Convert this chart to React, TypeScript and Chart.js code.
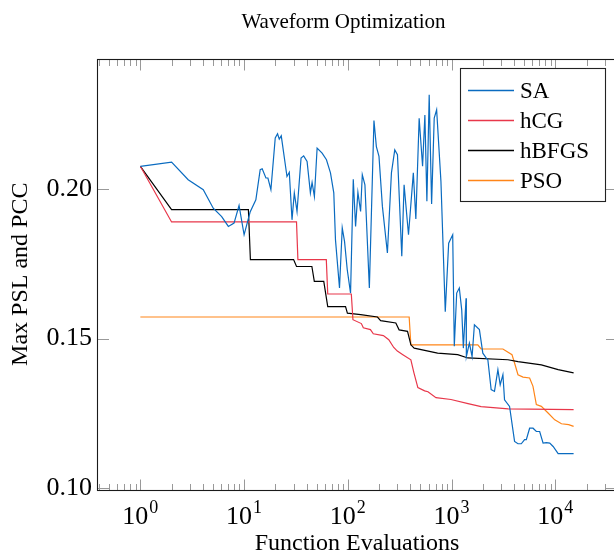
import React, { useEffect, useRef } from 'react';
import { Chart, registerables } from 'chart.js';

Chart.register(...registerables);

// ---------- chart content ----------
const TITLE = 'Waveform Optimization';
const X_LABEL = 'Function Evaluations';
const Y_LABEL = 'Max PSL and PCC';

const SERIES_NAMES = ['SA', 'hCG', 'hBFGS', 'PSO'];
const SERIES_COLORS = ['#0a6bc0', '#e8374a', '#000000', '#ff8518'];

const X_MIN = 0.382;
const X_MAX = 39300;
const Y_MIN = 0.0995;
const Y_MAX = 0.2435;

const Y_TICKS = [0.1, 0.15, 0.2];
const X_MAJOR_TICKS = [1, 10, 100, 1000, 10000];
const X_TICK_BASE = '10';
const X_TICK_EXPONENTS = ['0', '1', '2', '3', '4'];
const X_MINOR_TICKS = [
  0.4, 0.5, 0.6, 0.7, 0.8, 0.9,
  2, 3, 4, 5, 6, 7, 8, 9,
  20, 30, 40, 50, 60, 70, 80, 90,
  200, 300, 400, 500, 600, 700, 800, 900,
  2000, 3000, 4000, 5000, 6000, 7000, 8000, 9000,
  20000, 30000,
];

// SA
const SA_EVALS = [
  1, 2, 2.89, 4.04, 5.04, 6.08, 7.05, 8.0, 8.94, 10, 11.43, 12.98, 14.29, 14.94, 16.23, 16.96,
  18.13, 19.96, 21.01, 21.82, 22.81, 25.9, 27.27, 28.96, 30.48, 32.37, 35.4, 37.5, 40.46, 43.55,
  45.22, 47.6, 50.56, 56.5, 62.2, 68.0, 73.2, 76.0, 83.1, 88.3, 92.9, 98.7, 106.2, 112.8, 118.7,
  125, 132.7, 137.8, 146.1, 161.2, 178.5, 188.3, 199.6, 215.3, 240.6, 263.1, 283.3, 300.8, 331.1,
  348.5, 384.3, 427.8, 452.3, 486.8, 525.2, 552.8, 578, 608.3, 641.8, 680, 717.5, 789.5, 869,
  937.3, 1025, 1062, 1120, 1187, 1252, 1298, 1379, 1388, 1484, 1576, 1659, 1854, 2000, 2153,
  2236, 2406, 2591, 2795, 2941, 3124, 3238, 3620, 4046, 4364, 4697, 5055, 5252, 5651, 6098,
  6561, 7063, 7620, 8202, 8828, 9522, 10644, 15000,
];
const SA_VALUES = [
  0.2076, 0.209, 0.2031, 0.1998, 0.1936, 0.1908, 0.1875, 0.1886, 0.1945, 0.1847, 0.1923, 0.1964,
  0.2065, 0.2068, 0.2037, 0.2037, 0.1998, 0.2171, 0.2185, 0.2167, 0.2178, 0.2042, 0.2056, 0.1897,
  0.1987, 0.1925, 0.2104, 0.2111, 0.2092, 0.1987, 0.2022, 0.1975, 0.2137, 0.212, 0.2098, 0.2054,
  0.1987, 0.183, 0.1669, 0.187, 0.1825, 0.173, 0.1652, 0.2033, 0.1875, 0.1989, 0.1925, 0.2048,
  0.2014, 0.1669, 0.2229, 0.2142, 0.2109, 0.1942, 0.1786, 0.2054, 0.2131, 0.2115, 0.1775, 0.2014,
  0.1847, 0.2054, 0.19, 0.2237, 0.2076, 0.2248, 0.1959, 0.2315, 0.195, 0.2237, 0.2265, 0.2025,
  0.159, 0.1819, 0.1847, 0.1474, 0.1652, 0.1669, 0.1596, 0.1468, 0.1635, 0.144, 0.1485, 0.144,
  0.1546, 0.153, 0.1451, 0.1435, 0.1429, 0.1329, 0.1323, 0.1396, 0.1345, 0.1379, 0.1295, 0.1273,
  0.1156, 0.1148, 0.1148, 0.1162, 0.1162, 0.12, 0.12, 0.1189, 0.1189, 0.115, 0.1152, 0.115,
  0.1139, 0.1115, 0.1115,
];

// hCG
const HCG_EVALS = [
  1, 2, 32, 33, 62, 64, 108, 112, 135, 141, 165, 176, 220, 248, 277, 300, 339, 405, 433, 473,
  550, 592, 707, 986, 1441, 1925, 3515, 15000,
];
const HCG_VALUES = [
  0.2076, 0.189, 0.189, 0.1764, 0.1764, 0.1649, 0.1649, 0.1563, 0.155, 0.1536, 0.153, 0.1516,
  0.151, 0.1496, 0.147, 0.1458, 0.1446, 0.1429, 0.1386, 0.1336, 0.1325, 0.1322, 0.1302, 0.1296,
  0.1282, 0.1272, 0.1265, 0.1262,
];

// hBFGS
const HBFGS_EVALS = [
  1, 2, 11, 11.5, 30, 32, 45, 47.5, 58.6, 64, 95, 99, 133, 193, 207, 290, 312, 376, 405, 436,
  733, 1145, 1432, 3493, 4365, 7330, 10640, 15000,
];
const HBFGS_VALUES = [
  0.2076, 0.1931, 0.1931, 0.1764, 0.1764, 0.1741, 0.1741, 0.1691, 0.1691, 0.1607, 0.1607, 0.1585,
  0.158, 0.1572, 0.156, 0.1552, 0.1529, 0.1524, 0.1479, 0.1468, 0.1451, 0.1446, 0.1435, 0.1429,
  0.1423, 0.1412, 0.1396, 0.1385,
];

// PSO
const PSO_EVALS = [
  1, 390, 405, 1790, 1925, 3125, 3820, 4045, 4365, 4880, 5650, 6090, 6560, 7330, 8510, 9870,
  11460, 13450, 15000,
];
const PSO_VALUES = [
  0.1572, 0.1572, 0.1479, 0.1479, 0.1465, 0.1465, 0.1446, 0.1418, 0.1379, 0.1371, 0.1368, 0.134,
  0.1279, 0.1273, 0.1251, 0.1228, 0.1215, 0.1212, 0.1206,
];

// ---------- styling ----------
const FONT = "'Liberation Serif', 'Times New Roman', serif";
const CANVAS_W = 640;
const CANVAS_H = 554;
const TICK_COLOR = '#999999';
const FRAME_COLOR = '#1a1a1a';

const zip = (xs: number[], ys: number[]) => {
  const n = Math.min(xs.length, ys.length);
  const out: { x: number; y: number }[] = [];
  for (let i = 0; i < n; i++) out.push({ x: xs[i], y: ys[i] });
  return out;
};

const titlePlugin = {
  id: 'customTitle',
  afterDraw(chart: any) {
    const { ctx } = chart;
    ctx.save();
    ctx.fillStyle = '#000';
    ctx.font = `21px ${FONT}`;
    ctx.textAlign = 'center';
    ctx.textBaseline = 'middle';
    ctx.fillText(TITLE, 343.5, 22);
    ctx.restore();
  },
};

// x tick labels as 10 with a raised exponent, placed by the x scale
const xLabelPlugin = {
  id: 'xPowerLabels',
  afterDraw(chart: any) {
    const { ctx, scales } = chart;
    const xs = scales.x;
    ctx.save();
    ctx.fillStyle = '#000';
    ctx.textBaseline = 'alphabetic';
    ctx.textAlign = 'left';
    const baseFont = `26px ${FONT}`;
    const expFont = `18px ${FONT}`;
    X_MAJOR_TICKS.forEach((v, i) => {
      const px = xs.getPixelForValue(v);
      ctx.font = baseFont;
      const wb = ctx.measureText(X_TICK_BASE).width;
      ctx.font = expFont;
      const we = ctx.measureText(X_TICK_EXPONENTS[i]).width;
      const x0 = px - (wb + we + 1) / 2;
      ctx.font = baseFont;
      ctx.fillText(X_TICK_BASE, x0, 524);
      ctx.font = expFont;
      ctx.fillText(X_TICK_EXPONENTS[i], x0 + wb + 1, 513);
    });
    ctx.restore();
  },
};

const framePlugin = {
  id: 'frameTicks',
  afterDatasetsDraw(chart: any) {
    const { ctx, chartArea: a, scales } = chart;
    const xs = scales.x;
    const ys = scales.y;
    ctx.save();
    ctx.strokeStyle = TICK_COLOR;
    ctx.lineWidth = 1;
    ctx.beginPath();
    const seg = (x1: number, y1: number, x2: number, y2: number) => {
      ctx.moveTo(x1, y1);
      ctx.lineTo(x2, y2);
    };
    const top = Math.round(a.top) + 0.5;
    const bottom = Math.round(a.bottom) + 0.5;
    const left = Math.round(a.left) + 0.5;
    const right = Math.round(a.right) + 0.5;
    X_MAJOR_TICKS.forEach((v) => {
      const px = Math.round(xs.getPixelForValue(v)) + 0.5;
      seg(px, bottom, px, bottom - 11);
      seg(px, top, px, top + 11);
    });
    X_MINOR_TICKS.forEach((v) => {
      const px = Math.round(xs.getPixelForValue(v)) + 0.5;
      seg(px, bottom, px, bottom - 6.5);
      seg(px, top, px, top + 6.5);
    });
    Y_TICKS.forEach((v) => {
      const py = Math.round(ys.getPixelForValue(v)) + 0.5;
      seg(left, py, left + 11.5, py);
      seg(right, py, right - 11.5, py);
    });
    ctx.stroke();
    ctx.strokeStyle = FRAME_COLOR;
    ctx.lineWidth = 1.1;
    ctx.strokeRect(left, top, right - left, bottom - top);
    ctx.restore();
  },
};

const legendPlugin = {
  id: 'boxLegend',
  afterDatasetsDraw(chart: any) {
    const { ctx } = chart;
    const bx = 460.5;
    const by = 68.5;
    const bw = 145;
    const bh = 133;
    ctx.save();
    ctx.fillStyle = '#fff';
    ctx.fillRect(bx, by, bw, bh);
    ctx.strokeStyle = '#222';
    ctx.lineWidth = 1.1;
    ctx.strokeRect(bx, by, bw, bh);
    ctx.font = `23px ${FONT}`;
    ctx.textAlign = 'left';
    ctx.textBaseline = 'middle';
    chart.data.datasets.forEach((ds: any, i: number) => {
      const y = 90.5 + i * 30;
      ctx.strokeStyle = ds.borderColor;
      ctx.lineWidth = 1.3;
      ctx.beginPath();
      ctx.moveTo(468, y);
      ctx.lineTo(514, y);
      ctx.stroke();
      ctx.fillStyle = '#000';
      ctx.fillText(ds.label, 520, y + 1);
    });
    ctx.restore();
  },
};

export default function App() {
  const canvasRef = useRef<HTMLCanvasElement | null>(null);

  useEffect(() => {
    const canvas = canvasRef.current;
    if (!canvas) return;
    const seriesX = [SA_EVALS, HCG_EVALS, HBFGS_EVALS, PSO_EVALS];
    const seriesY = [SA_VALUES, HCG_VALUES, HBFGS_VALUES, PSO_VALUES];
    const datasets = SERIES_NAMES.map((name, i) => ({
      label: name,
      data: zip(seriesX[i], seriesY[i]),
      borderColor: SERIES_COLORS[i],
      backgroundColor: SERIES_COLORS[i],
      borderWidth: 1.2,
      pointRadius: 0,
      pointHoverRadius: 0,
      tension: 0,
      fill: false,
    }));
    const chart = new Chart(canvas, {
      type: 'line',
      data: { datasets },
      options: {
        animation: false,
        responsive: false,
        devicePixelRatio: 1,
        events: [],
        layout: { padding: { left: 0, top: 59, right: CANVAS_W - 617, bottom: 0 } },
        plugins: {
          legend: { display: false },
          title: { display: false },
          tooltip: { enabled: false },
        },
        scales: {
          x: {
            type: 'logarithmic',
            min: X_MIN,
            max: X_MAX,
            grid: { display: false, drawTicks: false },
            border: { display: false },
            afterBuildTicks: (scale: any) => {
              scale.ticks = X_MAJOR_TICKS.map((v) => ({ value: v }));
            },
            afterFit: (scale: any) => {
              scale.height = CANVAS_H - 489.5;
            },
            ticks: {
              display: false,
              autoSkip: false,
              maxRotation: 0,
              minRotation: 0,
            },
            title: {
              display: true,
              text: X_LABEL,
              color: '#000',
              font: { family: FONT, size: 24 },
              padding: { top: 0, bottom: -4 },
            },
          },
          y: {
            type: 'linear',
            min: Y_MIN,
            max: Y_MAX,
            grid: { display: false, drawTicks: false },
            border: { display: false },
            afterBuildTicks: (scale: any) => {
              scale.ticks = Y_TICKS.map((v) => ({ value: v }));
            },
            afterFit: (scale: any) => {
              scale.width = 97;
            },
            ticks: {
              padding: 5,
              color: '#000',
              font: { family: FONT, size: 26 },
              callback: (v: any) => Number(v).toFixed(2),
            },
            title: {
              display: true,
              text: Y_LABEL,
              color: '#000',
              font: { family: FONT, size: 24 },
              padding: { top: 6, bottom: 0 },
            },
          },
        },
      },
      plugins: [framePlugin, legendPlugin, titlePlugin, xLabelPlugin],
    });
    return () => chart.destroy();
  }, []);

  return (
    <div
      style={{
        position: 'fixed',
        left: 0,
        top: 0,
        width: 614,
        height: 554,
        overflow: 'hidden',
        background: '#fff',
      }}
    >
      <canvas
        ref={canvasRef}
        width={CANVAS_W}
        height={CANVAS_H}
        style={{ display: 'block', width: CANVAS_W, height: CANVAS_H }}
      />
    </div>
  );
}
